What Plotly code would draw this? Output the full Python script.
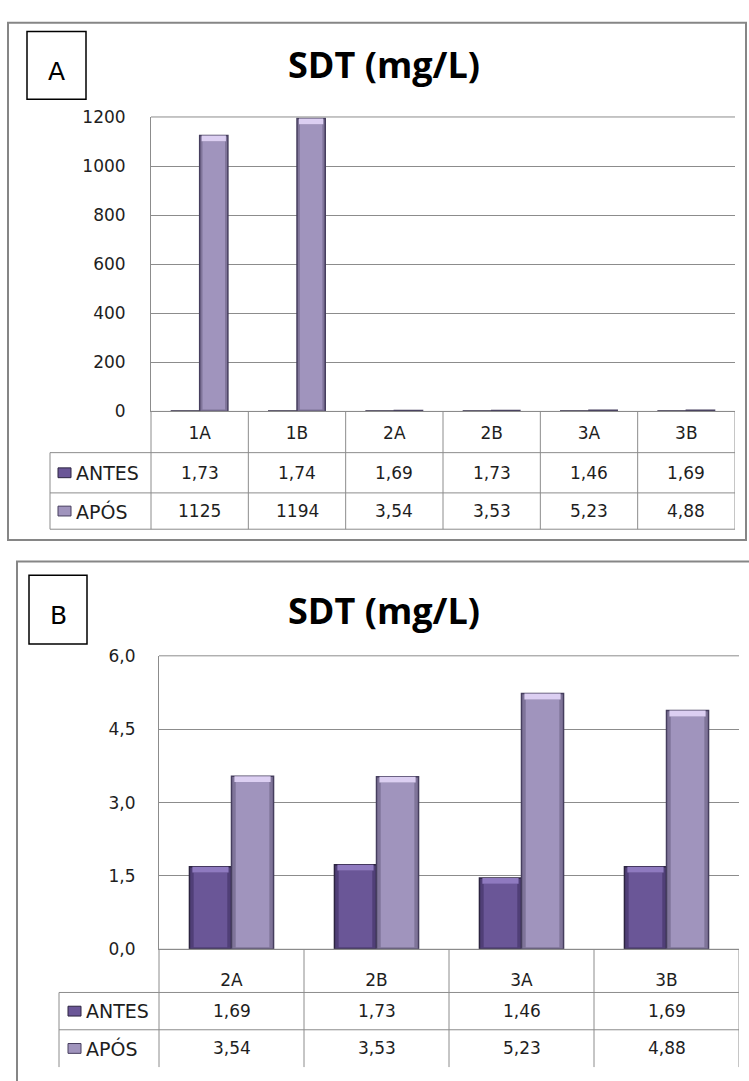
import plotly.graph_objects as go

# ---- data -------------------------------------------------------------
cats_a = ["1A", "1B", "2A", "2B", "3A", "3B"]
antes_a = [1.73, 1.74, 1.69, 1.73, 1.46, 1.69]
apos_a = [1125, 1194, 3.54, 3.53, 5.23, 4.88]

cats_b = ["2A", "2B", "3A", "3B"]
antes_b = [1.69, 1.73, 1.46, 1.69]
apos_b = [3.54, 3.53, 5.23, 4.88]

series_names = ["ANTES", "APÓS"]
title_text = "SDT (mg/L)"

yticks_a = [0, 200, 400, 600, 800, 1000, 1200]
yticks_b = [0.0, 1.5, 3.0, 4.5, 6.0]

# ---- page geometry (pixels) -------------------------------------------
W, H = 749, 1081


def px(x):
    return x / W


def py(y):
    return 1 - y / H


FILL = ["#503f77", "#7f7499"]     # bar body (darker rim)
INNER = ["#6a5697", "#a094bd"]    # bar face
CAP = ["#8f7ac0", "#dccff2"]      # bevelled top
EDGE = ["#2c2440", "#463e5e"]
GRID = "#8c8c8c"
TXT = "#1e1e1e"
TICK_FONT = dict(family="DejaVu Sans", size=17, color=TXT)

panels = [
    dict(cats=cats_a, vals=[antes_a, apos_a], label="A",
         plot=(151, 109, 735, 409), rows=(409, 451, 492, 529), legx=50,
         border=(8, 13, 746, 540), box=(27, 22, 86, 91), title_y=56,
         yrange=[0, 1200], yticks=yticks_a, yfmt="d", ticklen=21,
         xticklen=6, table_bottom_line=True),
    dict(cats=cats_b, vals=[antes_b, apos_b], label="B",
         plot=(159, 658, 739, 957), rows=(957, 1001, 1039, 1077), legx=59,
         border=(17, 562, 770, 1100), box=(29, 576, 87, 646), title_y=612,
         yrange=[0, 6], yticks=yticks_b, yfmt=".1f", ticklen=19,
         xticklen=15, table_bottom_line=False),
]

BAR_W = 0.29
OFFSETS = [-BAR_W, 0.0]


def fmt_val(v):
    if v >= 100:
        return str(int(round(v)))
    return f"{v:.2f}".replace(".", ",")


fig = go.Figure()
shapes = []
annotations = []

for i, p in enumerate(panels):
    xa = "x" if i == 0 else "x2"
    ya = "y" if i == 0 else "y2"
    x0, y0, x1, y1 = p["plot"]
    n = len(p["cats"])
    xs = list(range(n))
    units_per_px = (p["yrange"][1] - p["yrange"][0]) / (y1 - y0)
    cap_h = 6 * units_per_px

    for s, vals in enumerate(p["vals"]):
        fig.add_trace(go.Bar(
            x=xs, y=vals, xaxis=xa, yaxis=ya, width=BAR_W, offset=OFFSETS[s],
            marker=dict(color=FILL[s], line=dict(color=EDGE[s], width=1.5)),
            name=series_names[s], showlegend=False, hoverinfo="y"))
        # lighter face and bevelled top cap on bars tall enough to show it
        cx, cb, ch, fh = [], [], [], []
        for k, v in enumerate(vals):
            if v / units_per_px > 20:
                cx.append(k)
                cb.append(v - cap_h)
                ch.append(cap_h)
                fh.append(v - cap_h - 2 * units_per_px)
        if cx:
            fig.add_trace(go.Bar(
                x=cx, y=fh, base=[2 * units_per_px] * len(cx), xaxis=xa, yaxis=ya,
                width=BAR_W * 0.80, offset=OFFSETS[s] + BAR_W * 0.10,
                marker=dict(color=INNER[s], line=dict(width=0)),
                showlegend=False, hoverinfo="skip"))
            fig.add_trace(go.Bar(
                x=cx, y=ch, base=cb, xaxis=xa, yaxis=ya,
                width=BAR_W * 0.86, offset=OFFSETS[s] + BAR_W * 0.07,
                marker=dict(color=CAP[s], line=dict(width=0)),
                showlegend=False, hoverinfo="skip"))

    dom_x = [px(x0), px(x1)]
    dom_y = [py(y1), py(y0)]
    xaxis = dict(domain=dom_x, range=[-0.5, n - 0.5], anchor=ya,
                 tickvals=xs, ticktext=p["cats"], ticks="outside",
                 ticklen=p["xticklen"], tickcolor="rgba(0,0,0,0)",
                 tickfont=TICK_FONT, showgrid=False, zeroline=False,
                 showline=True, linecolor=GRID, linewidth=1, fixedrange=True)
    yaxis = dict(domain=dom_y, range=p["yrange"], anchor=xa,
                 tickvals=p["yticks"], tickformat=p["yfmt"], ticks="outside",
                 ticklen=p["ticklen"], tickcolor="rgba(0,0,0,0)",
                 tickfont=TICK_FONT, showgrid=True, gridcolor=GRID,
                 gridwidth=1, zeroline=False, showline=True,
                 linecolor=GRID, linewidth=1, fixedrange=True)
    if i == 0:
        fig.update_layout(xaxis=xaxis, yaxis=yaxis)
    else:
        fig.update_layout(xaxis2=xaxis, yaxis2=yaxis)

    # top grid edge of the plot area
    shapes.append(dict(type="line", xref="paper", yref="paper",
                       x0=px(x0), x1=px(x1), y0=py(y0), y1=py(y0),
                       line=dict(color=GRID, width=1)))

    # ---- data table under the plot ----
    r0, r1, r2, r3 = p["rows"]
    lx = p["legx"]
    line = dict(color=GRID, width=1)
    hlines = [(x0, r0), (lx, r1), (lx, r2)]
    if p["table_bottom_line"]:
        hlines.append((lx, r3))
    for hx, hy in hlines:
        shapes.append(dict(type="line", xref="paper", yref="paper",
                           x0=px(hx), x1=px(x1), y0=py(hy), y1=py(hy), line=line))
    shapes.append(dict(type="line", xref="paper", yref="paper",
                       x0=px(lx), x1=px(lx), y0=py(r1), y1=py(r3), line=line))
    shapes.append(dict(type="line", xref="paper", yref="paper",
                       x0=px(x0), x1=px(x0), y0=py(r0), y1=py(r3), line=line))
    for k in range(n):
        shapes.append(dict(type="line", xref=xa, yref="paper",
                           x0=k + 0.5, x1=k + 0.5, y0=py(r0), y1=py(r3),
                           line=line))

    row_mid = [(r1 + r2) / 2, (r2 + r3) / 2]
    for s, vals in enumerate(p["vals"]):
        # legend key: swatch + series name
        sw_x = lx + (8 if i == 0 else 9)
        shapes.append(dict(type="rect", xref="paper", yref="paper",
                           x0=px(sw_x), x1=px(sw_x + 13),
                           y0=py(row_mid[s] + 5), y1=py(row_mid[s] - 5),
                           fillcolor=INNER[s], line=dict(color=EDGE[s], width=1)))
        annotations.append(dict(xref="paper", yref="paper",
                                x=px(sw_x + 16), y=py(row_mid[s]),
                                xanchor="left", yanchor="middle",
                                text=series_names[s], showarrow=False,
                                font=dict(family="DejaVu Sans", size=19, color=TXT)))
        for k, v in enumerate(vals):
            annotations.append(dict(xref=xa, yref="paper", x=k,
                                    y=py(row_mid[s]), xanchor="center",
                                    yanchor="middle", text=fmt_val(v),
                                    showarrow=False, font=TICK_FONT))

    # ---- panel frame, letter box, title ----
    bx0, by0, bx1, by1 = p["border"]
    shapes.append(dict(type="rect", xref="paper", yref="paper",
                       x0=px(bx0), x1=px(bx1), y0=py(by1), y1=py(by0),
                       line=dict(color="#868686", width=2), layer="below"))
    lb = p["box"]
    shapes.append(dict(type="rect", xref="paper", yref="paper",
                       x0=px(lb[0]), x1=px(lb[2]), y0=py(lb[3]), y1=py(lb[1]),
                       line=dict(color="#000000", width=1.5)))
    annotations.append(dict(xref="paper", yref="paper",
                            x=px((lb[0] + lb[2]) / 2), y=py((lb[1] + lb[3]) / 2 + 6),
                            xanchor="center", yanchor="middle", text=p["label"],
                            showarrow=False,
                            font=dict(family="DejaVu Sans", size=25, color="#000")))
    annotations.append(dict(xref="paper", yref="paper",
                            x=px(384), y=py(p["title_y"]),
                            xanchor="center", yanchor="middle",
                            text=f"<b>{title_text}</b>", showarrow=False,
                            font=dict(family="Open Sans", size=36, color="#000")))

fig.update_layout(
    width=W, height=H, margin=dict(l=0, r=0, t=0, b=0),
    paper_bgcolor="white", plot_bgcolor="white",
    barmode="overlay", separators=",.", showlegend=False,
    shapes=shapes, annotations=annotations,
)

fig.write_html("out.html")
